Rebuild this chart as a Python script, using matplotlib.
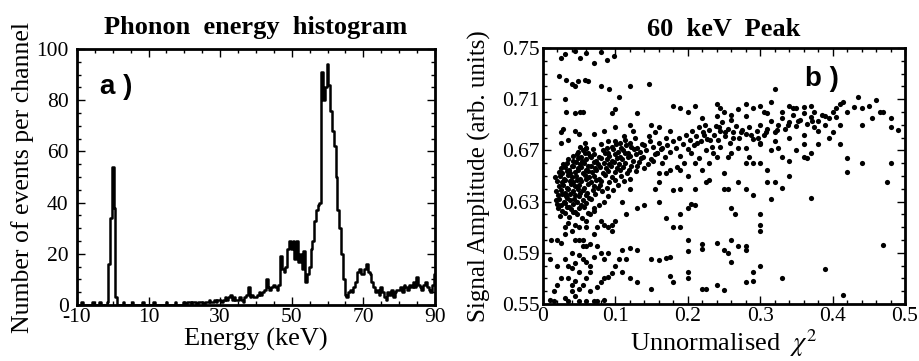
import matplotlib
matplotlib.use("Agg")
import matplotlib.pyplot as plt
from matplotlib.ticker import MultipleLocator, FixedLocator
import numpy as np

plt.rcParams['font.family'] = ['Liberation Serif', 'DejaVu Serif']
plt.rcParams['mathtext.fontset'] = 'stix'
plt.rcParams['axes.unicode_minus'] = False

# ---------------- Panel a: phonon energy histogram (0.5 keV channels) -------------
energy_start = -10.0
energy_step = 0.5
counts_m10 = [0, 0, 0, 1, 0, 0, 0, 0, 0, 1, 0, 0, 0, 1, 0, 0, 0, 1, 16, 34]
counts_0 = [54, 38, 3, 0, 0, 0, 1, 0, 0, 0, 0, 1, 0, 0, 0, 0, 0, 1, 0, 0]
counts_10 = [0, 0, 0, 1, 0, 0, 0, 0, 0, 0, 1, 0, 0, 0, 0, 1, 0, 0, 0, 0]
counts_20 = [1, 0, 1, 1, 0, 1, 1, 0, 1, 1, 1, 0, 1, 1, 2, 1, 1, 2, 1, 2]
counts_30 = [2, 1, 2, 3, 2, 3, 4, 2, 3, 2, 2, 3, 2, 1, 3, 4, 7, 3, 4, 3]
counts_40 = [3, 4, 5, 4, 5, 6, 10, 7, 6, 7, 8, 7, 6, 8, 19, 14, 13, 15, 22, 25]
counts_50 = [22, 25, 18, 25, 17, 20, 14, 21, 9, 12, 15, 22, 25, 33, 37, 39, 40, 91, 80, 85]
counts_60 = [94, 86, 76, 68, 62, 50, 37, 30, 20, 10, 4, 3, 5, 6, 5, 7, 9, 13, 14, 12]
counts_70 = [12, 14, 16, 13, 12, 9, 7, 5, 6, 4, 7, 5, 3, 2, 5, 4, 6, 3, 5, 6]
counts_80 = [6, 7, 5, 8, 7, 6, 8, 7, 9, 7, 11, 8, 7, 6, 8, 9, 7, 6, 5, 8]
counts_90 = [12]
hist_xticks = [-10, 10, 30, 50, 70, 90]

# ---------------- Panel b: 60 keV peak scatter ----------------
scat_xticks = [0, 0.1, 0.2, 0.3, 0.4, 0.5]
scat_xticklabels = ['0', '0.1', '0.2', '0.3', '0.4', '0.5']
scat_yticks = [0.55, 0.59, 0.63, 0.67, 0.71, 0.75]
scat_yticklabels = ['0.55', '0.59', '0.63', '0.67', '0.71', '0.75']

cluster_pts = [
    (0.024,0.619),(0.030,0.621),(0.036,0.618),(0.041,0.622),(0.047,0.620),(0.054,0.617),(0.062,0.621),
    (0.021,0.625),(0.027,0.623),(0.033,0.626),(0.039,0.624),(0.044,0.622),(0.050,0.625),(0.057,0.626),(0.070,0.623),
    (0.019,0.628),(0.025,0.627),(0.031,0.629),(0.036,0.626),(0.041,0.628),(0.047,0.630),(0.053,0.627),(0.060,0.629),(0.078,0.627),
    (0.018,0.631),(0.023,0.632),(0.029,0.630),(0.034,0.633),(0.038,0.631),(0.043,0.632),(0.050,0.634),(0.056,0.631),(0.066,0.632),(0.085,0.630),
    (0.021,0.635),(0.027,0.636),(0.032,0.634),(0.037,0.636),(0.045,0.635),(0.052,0.637),(0.059,0.635),(0.064,0.633),(0.072,0.636),(0.090,0.634),
    (0.018,0.638),(0.025,0.639),(0.030,0.637),(0.035,0.640),(0.041,0.638),(0.048,0.640),(0.055,0.639),(0.061,0.637),(0.069,0.639),(0.076,0.641),(0.082,0.638),(0.097,0.639),
    (0.022,0.642),(0.028,0.643),(0.033,0.641),(0.039,0.644),(0.044,0.642),(0.050,0.643),(0.057,0.641),(0.063,0.644),(0.070,0.642),(0.079,0.643),(0.088,0.641),(0.104,0.643),
    (0.020,0.646),(0.026,0.645),(0.031,0.647),(0.037,0.646),(0.042,0.645),(0.047,0.647),(0.053,0.646),(0.060,0.648),(0.066,0.645),(0.073,0.647),(0.081,0.646),(0.092,0.645),(0.100,0.647),(0.112,0.646),
    (0.017,0.649),(0.024,0.650),(0.029,0.648),(0.035,0.651),(0.040,0.649),(0.046,0.650),(0.051,0.648),(0.058,0.651),(0.064,0.649),(0.071,0.650),(0.077,0.648),(0.086,0.651),(0.095,0.649),(0.108,0.650),(0.120,0.648),
    (0.022,0.653),(0.027,0.652),(0.033,0.654),(0.038,0.652),(0.044,0.653),(0.049,0.655),(0.055,0.652),(0.062,0.654),(0.068,0.653),(0.074,0.655),(0.083,0.652),(0.090,0.654),(0.099,0.653),(0.106,0.655),(0.116,0.652),(0.128,0.654),
    (0.025,0.656),(0.031,0.657),(0.036,0.655),(0.042,0.658),(0.048,0.656),(0.053,0.657),(0.059,0.655),(0.066,0.658),(0.072,0.656),(0.079,0.657),(0.087,0.656),(0.094,0.658),(0.103,0.656),(0.111,0.657),(0.119,0.655),(0.130,0.658),(0.140,0.656),
    (0.028,0.659),(0.034,0.660),(0.040,0.658),(0.046,0.661),(0.051,0.659),(0.057,0.660),(0.063,0.658),(0.070,0.661),(0.076,0.659),(0.084,0.660),(0.091,0.659),(0.098,0.661),(0.105,0.659),(0.113,0.660),(0.122,0.658),(0.133,0.661),(0.145,0.659),
    (0.035,0.663),(0.042,0.662),(0.048,0.664),(0.054,0.662),(0.060,0.663),(0.067,0.665),(0.073,0.662),(0.081,0.664),(0.088,0.663),(0.095,0.662),(0.102,0.664),(0.109,0.663),(0.117,0.665),(0.125,0.662),(0.136,0.664),(0.150,0.663),
    (0.041,0.666),(0.047,0.667),(0.053,0.665),(0.058,0.668),(0.065,0.666),(0.071,0.667),(0.078,0.665),(0.086,0.668),(0.092,0.666),(0.100,0.667),(0.107,0.665),(0.114,0.668),(0.121,0.666),(0.128,0.667),(0.139,0.665),(0.155,0.667),
    (0.048,0.669),(0.055,0.670),(0.062,0.668),(0.069,0.671),(0.083,0.670),(0.090,0.668),(0.097,0.671),(0.104,0.669),(0.111,0.670),(0.118,0.668),(0.126,0.671),(0.134,0.669),(0.143,0.670),(0.158,0.668),
    (0.052,0.673),(0.060,0.672),(0.088,0.672),(0.095,0.673),(0.101,0.675),(0.108,0.672),(0.115,0.674),(0.122,0.673),(0.130,0.672),(0.140,0.674),(0.152,0.673),(0.165,0.672),
    (0.058,0.676),(0.099,0.677),(0.106,0.676),(0.113,0.678),(0.120,0.676),(0.137,0.675),(0.148,0.677),(0.160,0.676),
    (0.112,0.681),(0.127,0.680),(0.146,0.681),(0.170,0.680),(0.125,0.685),(0.155,0.684),(0.175,0.685),
]

band_pts = [
    (0.152,0.662),(0.158,0.668),(0.163,0.671),(0.168,0.665),(0.172,0.674),(0.176,0.669),(0.180,0.677),(0.184,0.672),
    (0.188,0.680),(0.190,0.666),(0.193,0.675),(0.197,0.682),(0.200,0.671),(0.203,0.678),(0.206,0.685),(0.209,0.674),
    (0.212,0.681),(0.215,0.688),(0.218,0.677),(0.221,0.684),(0.224,0.690),(0.227,0.679),(0.230,0.686),(0.233,0.673),
    (0.236,0.682),(0.239,0.689),(0.242,0.678),(0.245,0.685),(0.248,0.692),(0.251,0.681),(0.255,0.687),(0.259,0.676),
    (0.263,0.684),(0.267,0.689),(0.271,0.680),(0.275,0.686),(0.280,0.683),(0.285,0.688),(0.290,0.679),(0.295,0.685),
    (0.300,0.690),(0.305,0.682),(0.310,0.687),(0.315,0.693),(0.320,0.684),(0.325,0.690),(0.330,0.695),(0.335,0.687),
    (0.340,0.692),(0.345,0.698),(0.350,0.689),(0.355,0.694),(0.360,0.699),(0.365,0.691),(0.370,0.696),(0.375,0.688),
    (0.380,0.693),(0.385,0.698),(0.390,0.690),(0.395,0.695),(0.400,0.700),(0.405,0.696),(0.410,0.690),
    (0.205,0.668),(0.215,0.664),(0.225,0.670),(0.195,0.660),(0.185,0.657),(0.175,0.655),(0.165,0.660),(0.160,0.652),
    (0.235,0.668),(0.245,0.673),(0.260,0.668),(0.280,0.672),(0.300,0.675),(0.320,0.677),(0.340,0.680),(0.360,0.682),
    (0.380,0.685),(0.220,0.695),(0.240,0.697),(0.260,0.694),(0.280,0.697),(0.310,0.699),(0.330,0.700),(0.350,0.703),
    (0.370,0.705),(0.390,0.697),(0.213,0.676),(0.222,0.682),(0.231,0.678),(0.243,0.688),(0.252,0.684),(0.262,0.680),
    (0.273,0.684),(0.287,0.682),(0.297,0.680),(0.308,0.684),(0.323,0.686),(0.338,0.690),(0.352,0.693),(0.372,0.693),
]

upper_pts = [
    (0.025,0.742),(0.030,0.745),(0.045,0.748),(0.052,0.742),(0.060,0.746),(0.070,0.738),(0.080,0.747),(0.088,0.741),(0.098,0.744),
    (0.022,0.728),(0.032,0.725),(0.040,0.722),(0.045,0.720),(0.048,0.724),(0.058,0.725),(0.062,0.724),(0.080,0.720),(0.092,0.718),
    (0.120,0.720),(0.030,0.710),(0.105,0.712),(0.032,0.700),(0.045,0.699),(0.052,0.700),(0.056,0.700),(0.095,0.699),(0.100,0.702),
    (0.130,0.699),(0.028,0.687),(0.025,0.684),(0.045,0.685),(0.050,0.683),(0.070,0.683),(0.085,0.685),(0.100,0.688),(0.120,0.690),
    (0.150,0.690),(0.160,0.688),(0.025,0.676),(0.035,0.678),(0.060,0.672),(0.080,0.675),(0.090,0.677),(0.147,0.722),
    (0.180,0.705),(0.190,0.703),(0.200,0.700),(0.210,0.705),(0.240,0.706),(0.245,0.703),(0.250,0.700),(0.260,0.698),
    (0.270,0.702),(0.280,0.706),(0.290,0.703),(0.300,0.705),(0.305,0.700),(0.315,0.708),(0.320,0.718),(0.340,0.705),
    (0.345,0.703),(0.360,0.704),(0.375,0.700),(0.405,0.703),(0.410,0.706),(0.415,0.708),(0.420,0.700),(0.430,0.704),
    (0.435,0.712),(0.440,0.703),(0.460,0.709),(0.470,0.700),(0.480,0.695),(0.490,0.686),(0.440,0.690),(0.455,0.695),
    (0.480,0.688),(0.450,0.705),(0.465,0.700),(0.410,0.675),(0.395,0.680),(0.400,0.684),(0.380,0.675),(0.370,0.668),
    (0.360,0.665),(0.365,0.664),(0.360,0.675),(0.350,0.670),(0.340,0.662),(0.330,0.665),(0.325,0.672),(0.315,0.670),
    (0.300,0.676),(0.290,0.660),(0.285,0.665),(0.270,0.672),(0.255,0.665),(0.240,0.665),(0.230,0.660),(0.220,0.655),
    (0.210,0.660),(0.440,0.660),(0.420,0.653),(0.420,0.664),(0.480,0.660),
]

lower_pts = [
    (0.120,0.640),(0.110,0.630),(0.130,0.625),(0.115,0.620),(0.140,0.627),(0.160,0.630),(0.170,0.617),(0.190,0.620),
    (0.200,0.625),(0.205,0.628),(0.210,0.627),(0.180,0.610),(0.190,0.610),(0.200,0.600),(0.220,0.597),(0.240,0.598),
    (0.260,0.600),(0.270,0.595),(0.280,0.595),(0.260,0.625),(0.265,0.620),(0.290,0.635),(0.300,0.620),(0.300,0.607),
    (0.280,0.640),(0.310,0.645),(0.320,0.645),(0.330,0.641),(0.370,0.633),(0.340,0.650),(0.310,0.655),(0.300,0.660),
    (0.280,0.660),(0.250,0.652),(0.230,0.647),(0.225,0.645),(0.210,0.640),(0.200,0.650),(0.190,0.655),(0.170,0.652),
    (0.160,0.645),(0.155,0.640),(0.190,0.640),(0.180,0.639),(0.270,0.645),(0.250,0.640),(0.255,0.640),(0.300,0.612),
    (0.315,0.632),(0.150,0.585),(0.160,0.584),(0.170,0.586),(0.175,0.587),(0.120,0.594),(0.130,0.592),(0.110,0.592),
    (0.200,0.591),(0.220,0.593),(0.250,0.592),(0.255,0.590),(0.260,0.583),(0.280,0.592),(0.300,0.580),(0.330,0.570),
    (0.290,0.568),(0.280,0.567),(0.250,0.561),(0.220,0.562),(0.225,0.562),(0.180,0.567),(0.200,0.570),(0.175,0.572),
    (0.150,0.562),(0.130,0.567),(0.120,0.570),(0.110,0.575),(0.095,0.574),(0.090,0.571),(0.100,0.580),(0.105,0.585),
    (0.115,0.585),(0.390,0.577),(0.415,0.557),(0.470,0.596),(0.475,0.645),(0.290,0.575),(0.200,0.575),(0.240,0.565),
    (0.020,0.600),(0.025,0.598),(0.030,0.605),(0.030,0.585),(0.035,0.580),(0.040,0.578),(0.045,0.582),(0.040,0.590),
    (0.050,0.588),(0.055,0.585),(0.060,0.583),(0.065,0.580),(0.070,0.587),(0.035,0.570),(0.040,0.565),(0.045,0.568),
    (0.040,0.560),(0.045,0.556),(0.050,0.562),(0.055,0.565),(0.060,0.570),(0.065,0.575),(0.030,0.555),(0.035,0.552),
    (0.050,0.552),(0.060,0.552),(0.070,0.552),(0.075,0.552),(0.085,0.553),(0.065,0.560),(0.075,0.563),(0.080,0.567),
    (0.085,0.570),(0.020,0.565),(0.015,0.560),(0.010,0.553),(0.015,0.552),(0.030,0.610),(0.035,0.613),(0.040,0.607),
    (0.045,0.612),(0.050,0.610),(0.055,0.600),(0.060,0.595),(0.065,0.597),(0.070,0.605),(0.075,0.610),(0.080,0.615),
    (0.085,0.612),(0.090,0.610),(0.095,0.612),(0.100,0.615),(0.095,0.607),(0.075,0.595),(0.080,0.590),(0.085,0.585),
    (0.090,0.590),(0.020,0.580),(0.025,0.570),(0.010,0.585),(0.012,0.600),(0.050,0.575),(0.055,0.595),(0.060,0.615),
    (0.065,0.620),(0.070,0.625),(0.060,0.610),(0.045,0.600),(0.050,0.600),
]

# ---------------- figure ----------------
fig = plt.figure(figsize=(9.2, 3.61), dpi=100)
ax1 = fig.add_axes([0.0837, 0.155, 0.389, 0.709])
ax2 = fig.add_axes([0.590, 0.158, 0.3937, 0.709])

counts = (counts_m10 + counts_0 + counts_10 + counts_20 + counts_30 + counts_40
          + counts_50 + counts_60 + counts_70 + counts_80 + counts_90)
energies = energy_start + energy_step * np.arange(len(counts))
ax1.step(energies, counts, where='mid', color='black', lw=1.8)
ax1.set_xlim(-10, 90)
ax1.set_ylim(0, 100)
ax1.xaxis.set_major_locator(FixedLocator(hist_xticks))
ax1.xaxis.set_minor_locator(MultipleLocator(5))
ax1.yaxis.set_major_locator(MultipleLocator(20))
ax1.yaxis.set_minor_locator(MultipleLocator(5))
ax1.set_title('Phonon  energy  histogram', fontsize=19, fontweight='bold', pad=11)
ax1.set_xlabel('Energy (keV)', fontsize=19, labelpad=1)
ax1.set_ylabel('Number of events per channel', fontsize=18.5, labelpad=2)
ax1.text(0.064, 0.85, 'a )', transform=ax1.transAxes, fontsize=20, fontweight='bold',
         va='center', family=['Liberation Sans', 'DejaVu Sans'])

allpts = cluster_pts + band_pts + upper_pts + lower_pts
xs = [p[0] for p in allpts]
ys = [p[1] for p in allpts]
ax2.scatter(xs, ys, s=14, c='black', linewidths=0, clip_on=True)
ax2.set_xlim(0, 0.5)
ax2.set_ylim(0.55, 0.75)
ax2.xaxis.set_major_locator(FixedLocator(scat_xticks))
ax2.xaxis.set_minor_locator(MultipleLocator(0.02))
ax2.yaxis.set_major_locator(FixedLocator(scat_yticks))
ax2.yaxis.set_minor_locator(MultipleLocator(0.01))
ax2.set_xticklabels(scat_xticklabels)
ax2.set_yticklabels(scat_yticklabels)
ax2.set_title('60  keV  Peak', fontsize=19, fontweight='bold', pad=9)
ax2.set_xlabel('Unnormalised  $\\chi^2$', fontsize=19, labelpad=1)
ax2.set_ylabel('Signal Amplitude (arb. units)', fontsize=18, labelpad=8)
ax2.text(0.724, 0.88, 'b )', transform=ax2.transAxes, fontsize=20, fontweight='bold',
         va='center', family=['Liberation Sans', 'DejaVu Sans'])

for ax in (ax1, ax2):
    for sp in ax.spines.values():
        sp.set_linewidth(2.0)
    ax.tick_params(which='both', direction='in', top=True, right=True, labelsize=15.5, width=1.0)
    ax.tick_params(which='major', length=6, pad=2)
    ax.tick_params(which='minor', length=3)
ax1.tick_params(axis='y', which='major', pad=6)

fig.savefig('out.png', dpi=100)
